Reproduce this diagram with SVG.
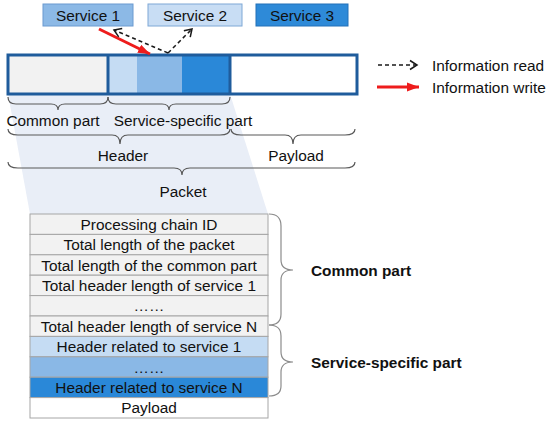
<svg xmlns="http://www.w3.org/2000/svg" width="550" height="426" viewBox="0 0 550 426">
<style>
text{font-family:"Liberation Sans",Arial,sans-serif;font-size:15.4px;fill:#111111}
.c{text-anchor:middle}
.b{font-weight:bold}
.brace{fill:none;stroke:#595959;stroke-width:1.2}
.rbrace{fill:none;stroke:#8c8c8c;stroke-width:1.2}
.row{stroke:#a6a6a6;stroke-width:1}
.bar{stroke:#1f5c9c;stroke-width:3}
.read{fill:none;stroke:#1a1a1a;stroke-width:1.5;stroke-dasharray:4 3}
.write{fill:none;stroke:#ee1c1c;stroke-width:3}
</style>
<defs>
<marker id="open" markerUnits="userSpaceOnUse" markerWidth="12" markerHeight="12" refX="9" refY="6" orient="auto">
<path d="M2,1.5 L9,6 L2,10.5" fill="none" stroke="#1a1a1a" stroke-width="1.5"/>
</marker>
<marker id="solid" markerUnits="userSpaceOnUse" markerWidth="14" markerHeight="12" refX="12" refY="6" orient="auto">
<path d="M0,1.5 L12,6 L0,10.5 Z" fill="#ee1c1c"/>
</marker>
</defs>
<polygon id="shade" points="8,94 230,94 268,214 30,214" fill="#e9eef7"/>
<g id="services">
<g id="service1"><rect x="43" y="4" width="90" height="22" fill="#8cb9e6" stroke="#6b9ad0"/><text class="c" x="88" y="20.5">Service 1</text></g>
<g id="service2"><rect x="148" y="4" width="94" height="22" fill="#c8ddf4" stroke="#7fa8d6"/><text class="c" x="195" y="20.5">Service 2</text></g>
<g id="service3"><rect x="256" y="4" width="92" height="22" fill="#2e8ad8" stroke="#2370b8"/><text class="c" x="302" y="20.5">Service 3</text></g>
</g>
<g id="packet">
<rect x="8" y="55" width="100" height="39" fill="#f2f2f2"/>
<rect x="108" y="55" width="29" height="39" fill="#c5dcf3"/>
<rect x="137" y="55" width="45" height="39" fill="#8ab8e6"/>
<rect x="182" y="55" width="48" height="39" fill="#2a88d8"/>
<rect x="230" y="55" width="127" height="39" fill="#ffffff"/>
<rect class="bar" x="8" y="55" width="349" height="39" fill="none"/>
<line class="bar" x1="108" y1="55" x2="108" y2="94"/>
<line class="bar" x1="230" y1="55" x2="230" y2="94"/>
</g>
<g id="connectors">
<line class="write" x1="99" y1="29" x2="150" y2="54" marker-end="url(#solid)"/>
<line class="read" x1="168" y1="53" x2="114" y2="30" marker-end="url(#open)"/>
<line class="read" x1="168" y1="53" x2="192" y2="29" marker-end="url(#open)"/>
</g>
<g id="legend">
<line class="read" x1="378" y1="65" x2="417" y2="65" marker-end="url(#open)"/>
<text x="432" y="70.5">Information read</text>
<line class="write" x1="377" y1="87" x2="419" y2="87" marker-end="url(#solid)"/>
<text x="432" y="92.5">Information write</text>
</g>
<g id="braces">
<path class="brace" d="M8,97 Q8,104 16,104 L51,104 Q58,104 58,110 Q58,104 65,104 L100,104 Q108,104 108,97"/>
<path class="brace" d="M108,97 Q108,104 116,104 L162,104 Q169,104 169,110 Q169,104 176,104 L222,104 Q230,104 230,97"/>
<text class="c" x="53" y="126">Common part</text>
<text class="c" x="183" y="126">Service-specific part</text>
<path class="brace" d="M8,129 Q8,135 18,135 L112,135 Q120,135 120,144 Q120,135 128,135 L220,135 Q230,135 230,129"/>
<path class="brace" d="M231,129 Q231,135 241,135 L285,135 Q293,135 293,144 Q293,135 301,135 L345,135 Q355,135 355,129"/>
<text class="c" x="123" y="161">Header</text>
<text class="c" x="296" y="161">Payload</text>
<path class="brace" d="M8,162 Q8,168 18,168 L174,168 Q182,168 182,175 Q182,168 190,168 L345,168 Q355,168 355,162"/>
<text class="c" x="183" y="197">Packet</text>
</g>
<g id="table">
<rect class="row" x="30" y="214" width="238" height="20.4" fill="#f2f2f2"/>
<rect class="row" x="30" y="234.4" width="238" height="20.4" fill="#f2f2f2"/>
<rect class="row" x="30" y="254.8" width="238" height="20.4" fill="#f2f2f2"/>
<rect class="row" x="30" y="275.2" width="238" height="20.4" fill="#f2f2f2"/>
<rect class="row" x="30" y="295.6" width="238" height="20.4" fill="#f2f2f2"/>
<rect class="row" x="30" y="316" width="238" height="20.4" fill="#f2f2f2"/>
<rect class="row" x="30" y="336.4" width="238" height="20.4" fill="#c5dcf3"/>
<rect class="row" x="30" y="356.8" width="238" height="20.4" fill="#8ab8e6"/>
<rect class="row" x="30" y="377.2" width="238" height="20.4" fill="#2a88d8"/>
<rect class="row" x="30" y="397.6" width="238" height="20.4" fill="#ffffff"/>
<text class="c" x="149" y="229.7">Processing chain ID</text>
<text class="c" x="149" y="250.1">Total length of the packet</text>
<text class="c" x="149" y="270.5">Total length of the common part</text>
<text class="c" x="149" y="290.9">Total header length of service 1</text>
<text class="c" x="149" y="311.3">……</text>
<text class="c" x="149" y="331.7">Total header length of service N</text>
<text class="c" x="149" y="352.1">Header related to service 1</text>
<text class="c" x="149" y="372.5">……</text>
<text class="c" x="149" y="392.9">Header related to service N</text>
<text class="c" x="149" y="413.3">Payload</text>
</g>
<g id="table-braces">
<path class="rbrace" d="M269,214 Q281,214 281,226 L281,260 Q281,270 293,270 Q281,270 281,280 L281,314 Q281,325 269,325"/>
<path class="rbrace" d="M269,325 Q281,325 281,336 L281,352 Q281,362 293,362 Q281,362 281,372 L281,386 Q281,396 269,396"/>
<text class="b" x="311" y="275.5">Common part</text>
<text class="b" x="311" y="367.5">Service-specific part</text>
</g>
</svg>
